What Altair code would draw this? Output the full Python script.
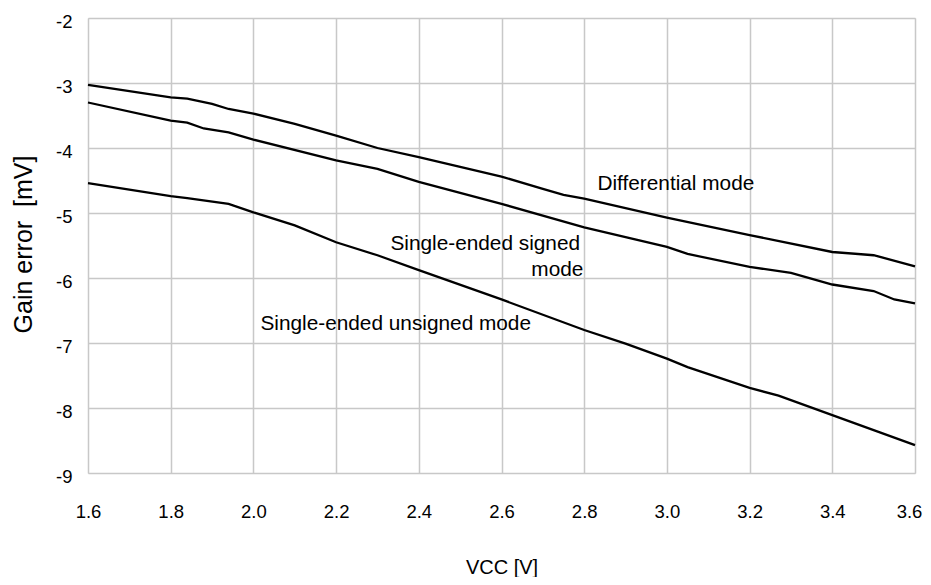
import altair as alt
import pandas as pd

# Differential mode
diff_x = [1.6, 1.8, 1.84, 1.9, 1.94, 2.0, 2.1, 2.2, 2.3, 2.4, 2.5, 2.6, 2.7, 2.75, 2.8, 3.0, 3.2, 3.4, 3.5, 3.6]
diff_y = [-3.03, -3.22, -3.24, -3.32, -3.40, -3.47, -3.63, -3.81, -4.00, -4.14, -4.29, -4.44, -4.63, -4.72, -4.78, -5.07, -5.34, -5.60, -5.65, -5.82]

# Single-ended signed mode
sign_x = [1.6, 1.8, 1.84, 1.88, 1.94, 2.0, 2.2, 2.3, 2.4, 2.6, 2.8, 2.9, 3.0, 3.05, 3.2, 3.3, 3.4, 3.5, 3.55, 3.6]
sign_y = [-3.30, -3.58, -3.61, -3.70, -3.76, -3.87, -4.19, -4.32, -4.52, -4.86, -5.22, -5.37, -5.52, -5.63, -5.83, -5.92, -6.10, -6.20, -6.33, -6.39]

# Single-ended unsigned mode
uns_x = [1.6, 1.8, 1.84, 1.94, 2.0, 2.1, 2.2, 2.3, 2.4, 2.6, 2.8, 2.9, 3.0, 3.05, 3.2, 3.27, 3.4, 3.5, 3.6]
uns_y = [-4.54, -4.74, -4.77, -4.86, -4.99, -5.19, -5.45, -5.65, -5.88, -6.33, -6.80, -7.01, -7.24, -7.37, -7.69, -7.81, -8.11, -8.34, -8.57]

# Annotations (data coordinates)
ann_text = ["Differential mode", "Single-ended signed", "mode", "Single-ended unsigned mode"]
ann_x = [2.832, 2.790, 2.798, 2.017]
ann_y = [-4.56, -5.47, -5.87, -6.70]
ann_align = ["left", "right", "right", "left"]

x_ticks = [1.6, 1.8, 2.0, 2.2, 2.4, 2.6, 2.8, 3.0, 3.2, 3.4, 3.6]
y_ticks = [-9, -8, -7, -6, -5, -4, -3, -2]

rows = []
for name, xs, ys in [("Differential", diff_x, diff_y), ("Signed", sign_x, sign_y), ("Unsigned", uns_x, uns_y)]:
    for i, (a, b) in enumerate(zip(xs, ys)):
        rows.append({"series": name, "vcc": a, "err": b, "order": i})
df = pd.DataFrame(rows)

ann_df = pd.DataFrame({"text": ann_text, "vcc": ann_x, "err": ann_y, "align": ann_align})

FONT = "Liberation Sans"

xscale = alt.Scale(domain=[1.6, 3.6], nice=False, zero=False)
yscale = alt.Scale(domain=[-9, -2], nice=False, zero=False)

lines = alt.Chart(df).mark_line(color="black", strokeWidth=2.3).encode(
    x=alt.X("vcc:Q", scale=xscale,
            axis=alt.Axis(values=x_ticks, format=".1f", title="VCC [V]", ticks=False, domain=False,
                          grid=True, gridColor="#c8c8c8", gridWidth=1.5, labelFlush=False,
                          labelOffset={"condition": {"test": "datum.value >= 3.59", "value": -6}, "value": 0},
                          labelFont=FONT, labelFontSize=18.5, labelColor="black", labelPadding=29,
                          titleFont=FONT, titleFontSize=20, titleFontWeight="normal", titleColor="black",
                          titleY=94, titleBaseline="middle")),
    y=alt.Y("err:Q", scale=yscale,
            axis=alt.Axis(values=y_ticks, title="Gain error\u00a0 [mV]", ticks=False, domain=False,
                          labelExpr="toString(datum.value)", labelFlush=False,
                          grid=True, gridColor="#c8c8c8", gridWidth=1.5,
                          labelFont=FONT, labelFontSize=18.5, labelColor="black", labelPadding=16,
                          labelOffset=3,
                          titleFont=FONT, titleFontSize=25, titleFontWeight="normal",
                          titleColor="black", titleX=-65, titleY=226, titleBaseline="middle")),
    detail="series:N",
    order="order:Q",
)

left_text = alt.Chart(ann_df[ann_df["align"] == "left"]).mark_text(
    align="left", baseline="middle", font=FONT, fontSize=20.8, color="black"
).encode(x="vcc:Q", y="err:Q", text="text:N")

right_text = alt.Chart(ann_df[ann_df["align"] == "right"]).mark_text(
    align="right", baseline="middle", font=FONT, fontSize=20.8, color="black"
).encode(x="vcc:Q", y="err:Q", text="text:N")

chart = alt.layer(lines, left_text, right_text).properties(
    width=827, height=455,
    autosize=alt.AutoSizeParams(type="none"),
    padding={"left": 80, "top": 10, "right": 8, "bottom": 104},
).configure_view(stroke="#999999", strokeWidth=1.5).configure(background="white")

chart.save("out.html", embed_options={"renderer": "svg", "actions": False})
